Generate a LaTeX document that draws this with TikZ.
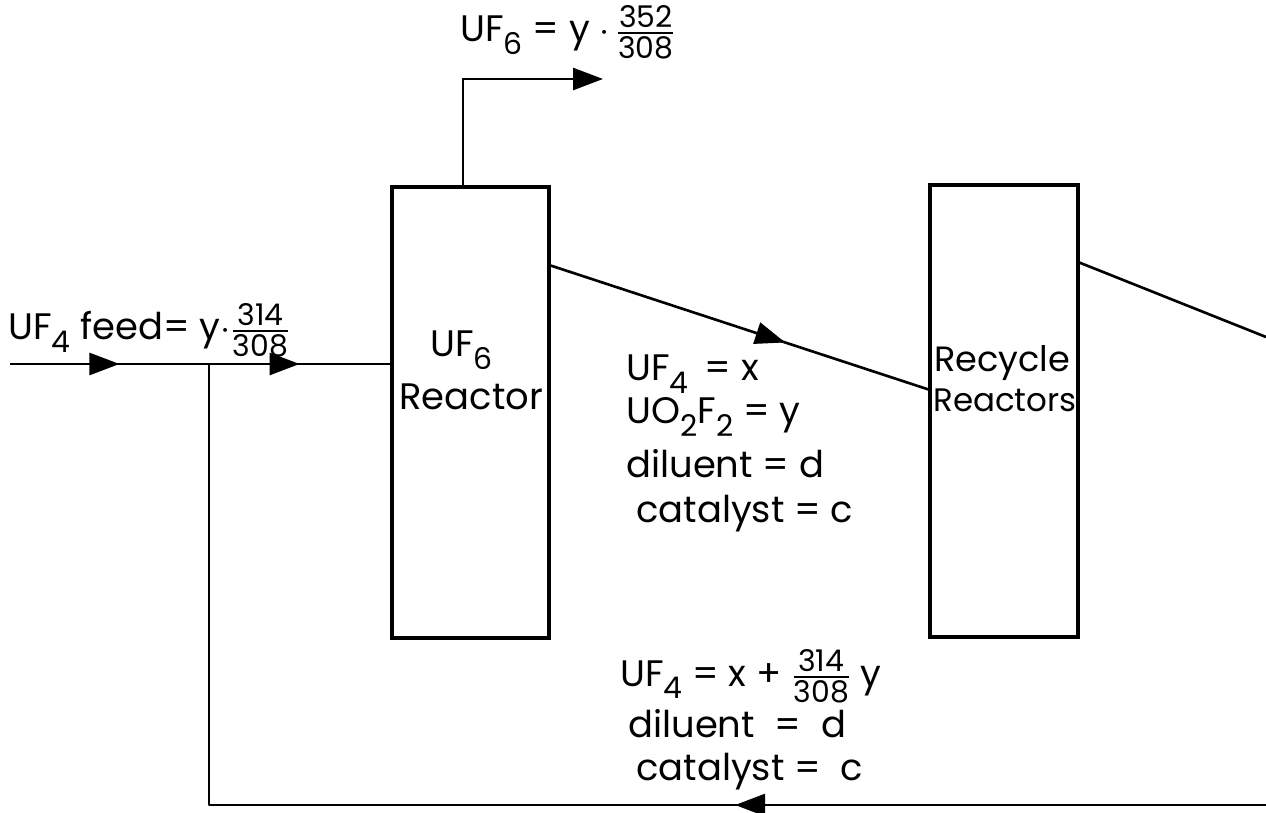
\documentclass[tikz,border=0pt]{standalone}
\usepackage{amsmath}
\usepackage{fontspec}
\setmainfont{Poppins}
\usetikzlibrary{arrows.meta,decorations.markings}
\newcommand\sbs[1]{\raisebox{-7pt}{\fontsize{17}{17}\selectfont #1}}
\newcommand\frc[2]{\ensuremath{\genfrac{}{}{1.3pt}{}{\mbox{\fontsize{17}{17}\selectfont #1}}{\mbox{\fontsize{17}{17}\selectfont #2}}}}
\tikzset{
  box/.style={draw, line width=2.2pt, inner sep=0pt},
  conn/.style={line width=1.5pt},
  lbl/.style={inner sep=0pt, anchor=base west, font=\fontsize{21}{21}\selectfont},
  midarrow/.style={postaction={decorate, decoration={markings,
      mark=at position #1 with {\arrow{Triangle[length=0.6cm, width=0.44cm]}}}}},
}
\begin{document}
\begin{tikzpicture}[x=0.02cm, y=-0.02cm]
\useasboundingbox (0,0) rectangle (1266,813);
% boxes
\node[box, minimum width=3.14cm, minimum height=9.02cm] (r1) at (470.5,412.5) {};
\node[box, minimum width=2.96cm, minimum height=9.04cm] (r2) at (1004,411) {};
% box texts
\node[lbl] (r1a) at (430,357) {UF\sbs{6}};
\node[lbl] (r1b) at (399,410) {Reactor};
\node[lbl, font=\fontsize{20}{20}\selectfont] (r2a) at (934,372) {Recycle};
\node[lbl, font=\fontsize{18.5}{18.5}\selectfont] (r2b) at (933,412) {Reactors};
% coordinates
\coordinate (fs) at (10,364);
\coordinate (j) at (209,364);
\coordinate (r1in) at (r1.west |- j);
\coordinate (r1top) at (463,187);
\coordinate (up) at (463,79);
\coordinate (uf6) at (603,79);
\coordinate (r1out) at (549,265);
\coordinate (r2in) at (930,390);
\coordinate (r2out) at (1078,262);
\coordinate (edge1) at (1266,337);
\coordinate (edge2) at (1266,805);
\coordinate (jb) at (209,805);
% connectors
\draw[conn, midarrow=0.55] (fs) -- (j);
\draw[conn, midarrow=0.50] (j) -- (r1in);
\draw[conn, -{Triangle[length=0.6cm, width=0.44cm]}] (r1top) -- (up) -- (uf6);
\draw[conn, midarrow=0.62] (r1out) -- (r2in);
\draw[conn] (r2out) -- (edge1);
\draw[conn, midarrow=10.62cm, line join=round] (edge2) -- (jb) -- (j);
% labels
\node[lbl] (feed) at (8,340) {UF\sbs{4} feed= y$\cdot$\frc{314}{308}};
\node[lbl] (top) at (460,42) {UF\sbs{6} = y $\cdot$\,\frc{352}{308}};
\node[lbl] (m1) at (626,381) {UF\sbs{4}\, = x};
\node[lbl] (m2) at (626,424) {UO\sbs{2}F\sbs{2} = y};
\node[lbl] (m3) at (626,478) {diluent = d};
\node[lbl] (m4) at (636,522) {catalyst = c};
\node[lbl] (b1) at (620,686) {UF\sbs{4} = x + \frc{314}{308} y};
\node[lbl] (b2) at (628,737) {diluent \ = \ d};
\node[lbl] (b3) at (636,780) {catalyst = \ c};
\end{tikzpicture}
\end{document}
